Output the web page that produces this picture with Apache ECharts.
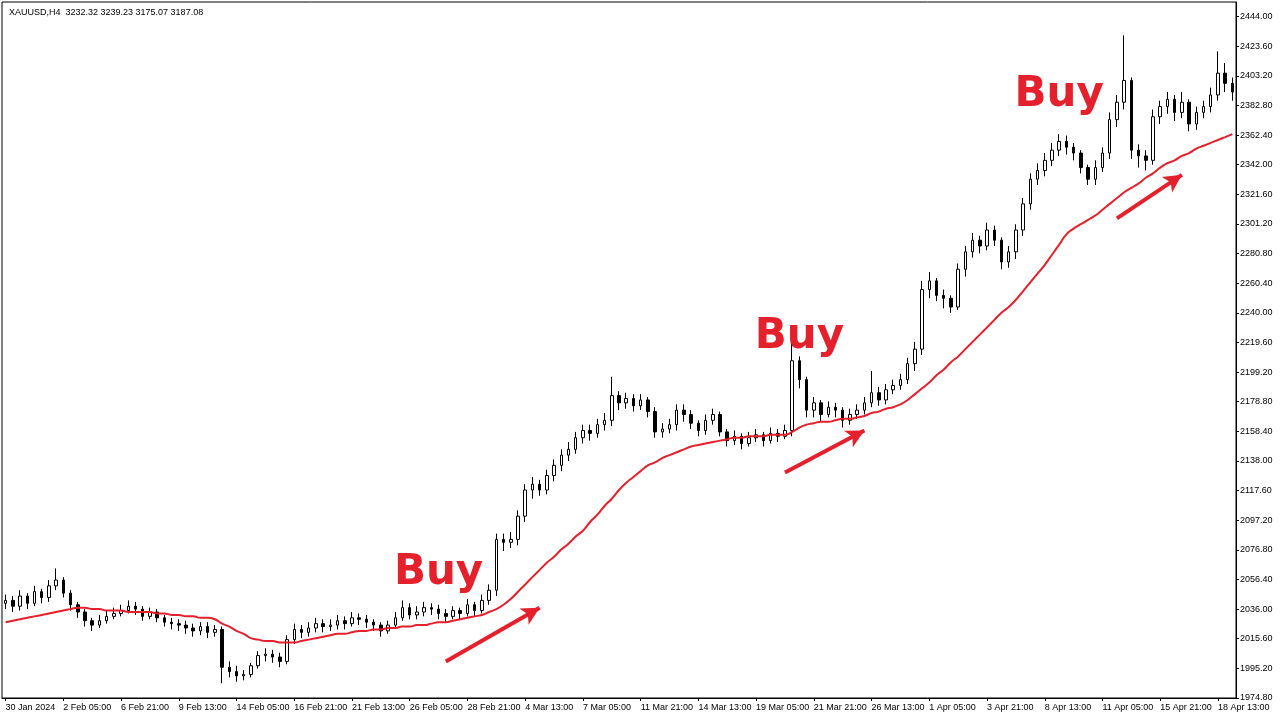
<!DOCTYPE html>
<html>
<head>
<meta charset="utf-8">
<script src="https://cdn.jsdelivr.net/npm/echarts@6/dist/echarts.min.js"></script>
<style>html,body{margin:0;padding:0;background:#fff}#chart{width:1280px;height:720px}</style>
</head>
<body>
<div id="chart"></div>
<script>
// tick labels under the x axis, one every 8 candles
var tickLabels = ['30 Jan 2024','2 Feb 05:00','6 Feb 21:00','9 Feb 13:00','14 Feb 05:00','16 Feb 21:00',
    '21 Feb 13:00','26 Feb 05:00','28 Feb 21:00','4 Mar 13:00','7 Mar 05:00','11 Mar 21:00','14 Mar 13:00',
    '19 Mar 05:00','21 Mar 21:00','26 Mar 13:00','1 Apr 05:00','3 Apr 21:00','8 Apr 13:00','11 Apr 05:00',
    '15 Apr 21:00','18 Apr 13:00'];
// close prices
var closes = [2042,2038,2045,2040,2048,2044,2052,2056,2047,2039,2034,2028,2025,2028,2031,2033,2035,2038,2036,2031,
    2034,2030,2027,2026,2025,2023,2021,2024,2020,2022,1996,1993,1990,1991,1997,2004,2005,2003,2000,2015,
    2022,2020,2023,2026,2024,2025,2028,2026,2030,2029,2027,2025,2021,2025,2030,2037,2032,2034,2037,2036,
    2033,2031,2035,2033,2039,2035,2042,2049,2084,2082,2084,2100,2118,2122,2118,2128,2135,2142,2146,2154,
    2159,2157,2163,2166,2183,2178,2181,2176,2180,2172,2158,2160,2163,2173,2170,2164,2159,2166,2170,2158,
    2152,2155,2150,2154,2156,2152,2157,2155,2159,2207,2194,2173,2178,2170,2175,2173,2166,2170,2173,2178,
    2185,2180,2187,2190,2194,2205,2215,2256,2262,2252,2250,2244,2270,2282,2290,2286,2297,2290,2275,2282,
    2297,2315,2332,2338,2345,2352,2358,2354,2350,2340,2332,2340,2350,2373,2385,2400,2352,2348,2345,2375,
    2382,2387,2378,2385,2370,2378,2382,2390,2405,2398,2392];
var opens = [2040,2042,2038,2045,2040,2048,2044,2052,2056,2047,2039,2034,2028,2025,2028,2031,2033,2035,2038,2036,
    2031,2034,2030,2027,2026,2025,2023,2021,2024,2020,2022,1996,1993,1990,1991,1997,2004,2005,2003,2000,
    2015,2022,2020,2023,2026,2024,2025,2028,2026,2030,2029,2027,2025,2021,2025,2030,2037,2032,2034,2037,
    2036,2033,2031,2035,2033,2039,2035,2042,2049,2084,2082,2084,2100,2118,2122,2118,2128,2135,2142,2146,
    2154,2159,2157,2163,2166,2183,2178,2181,2176,2180,2172,2158,2160,2163,2173,2170,2164,2159,2166,2170,
    2158,2152,2155,2150,2154,2156,2152,2157,2155,2159,2207,2194,2173,2178,2170,2175,2173,2166,2170,2173,
    2178,2185,2180,2187,2190,2194,2205,2215,2256,2262,2252,2250,2244,2270,2282,2290,2286,2297,2290,2275,
    2282,2297,2315,2332,2338,2345,2352,2358,2354,2350,2340,2332,2340,2350,2373,2385,2400,2352,2348,2345,
    2375,2382,2387,2378,2385,2370,2378,2382,2390,2405,2398];
var highs = [2046,2045,2049,2047,2052,2050,2056,2064,2058,2049,2041,2036,2030,2032,2035,2037,2039,2042,2041,2038,
    2037,2036,2032,2030,2029,2028,2026,2027,2027,2025,2024,2000,1997,1994,1999,2007,2009,2008,2006,2018,
    2026,2025,2027,2030,2029,2029,2032,2031,2034,2033,2032,2029,2027,2028,2034,2042,2040,2038,2041,2040,
    2039,2036,2038,2037,2043,2041,2046,2053,2088,2088,2089,2104,2122,2127,2125,2132,2139,2146,2151,2158,
    2163,2163,2167,2171,2196,2186,2185,2184,2184,2182,2175,2164,2167,2177,2177,2173,2166,2170,2174,2172,
    2160,2159,2157,2158,2160,2158,2161,2160,2163,2222,2210,2196,2182,2180,2179,2178,2175,2174,2177,2182,
    2200,2189,2191,2194,2198,2209,2220,2262,2268,2264,2256,2252,2274,2286,2295,2293,2302,2300,2292,2286,
    2301,2319,2336,2343,2350,2357,2363,2362,2357,2352,2342,2345,2354,2378,2390,2431,2402,2356,2352,2380,
    2386,2392,2390,2392,2387,2382,2386,2395,2420,2412,2402];
var lows = [2036,2034,2035,2036,2038,2040,2041,2049,2044,2035,2030,2024,2021,2023,2026,2029,2031,2033,2032,2028,
    2029,2027,2024,2022,2021,2019,2017,2018,2016,2017,1985,1989,1986,1987,1989,1995,2000,1999,1996,1998,
    2012,2016,2017,2020,2020,2021,2022,2022,2024,2025,2023,2021,2017,2019,2023,2028,2029,2029,2031,2032,
    2029,2027,2029,2029,2031,2031,2033,2039,2045,2076,2078,2080,2096,2112,2114,2115,2124,2131,2138,2143,
    2150,2152,2154,2159,2162,2173,2174,2172,2173,2168,2154,2154,2157,2159,2165,2160,2155,2156,2163,2155,
    2148,2149,2146,2148,2151,2148,2150,2151,2153,2155,2188,2168,2168,2165,2168,2168,2161,2163,2167,2170,
    2175,2176,2177,2184,2187,2191,2200,2211,2250,2248,2243,2240,2242,2265,2278,2281,2283,2286,2270,2271,
    2277,2293,2311,2328,2334,2341,2348,2349,2345,2336,2328,2328,2337,2346,2368,2380,2346,2340,2338,2342,
    2370,2377,2372,2374,2365,2366,2374,2378,2386,2392,2386];
// red moving average
var maValues = [2027,2028,2029,2030,2031,2032,2033,2034,2035,2036,2037,
    2037,2036,2036,2035,2035,2035,2034,2034,2034,2034,
    2033,2033,2032,2032,2031,2031,2030,2030,2029,
    2026,2024,2021,2019,2016,2015,2014,2014,2013,2013,2013,
    2014,2015,2016,2017,2018,2019,2019,2020,
    2021,2021,2022,2022,2023,2023,2024,2024,2025,2025,
    2026,2027,2027,2028,2029,2030,2031,2032,
    2034,2036,2039,2043,2048,2053,2058,2063,
    2068,2072,2077,2081,2086,2090,
    2096,2101,2107,2112,2118,
    2123,2127,2131,2135,
    2137,2140,2142,2144,2146,2148,2149,
    2150,2151,2152,2153,2154,2154,2155,
    2155,2155,2156,2156,2156,
    2158,2161,2163,
    2164,2165,2165,2166,2167,2167,2168,
    2169,2171,2172,2174,2175,2177,
    2180,2184,2188,2192,2197,
    2201,2206,2210,2215,2220,2225,
    2230,2235,2240,2244,2249,
    2255,2261,2267,2273,2280,2287,2294,
    2298,2301,2304,2307,
    2311,2315,2319,2323,2326,
    2329,2333,2336,2340,
    2343,2345,2348,2350,2353,
    2355,2357,2359,2361,2363];
// annotations: [index, price]
var buyLabels = [[60, 2061], [110, 2223], [146, 2390]];
var arrows = [[[61, 2000], [74, 2037]], [[108, 2130], [119, 2159]], [[154, 2305], [163, 2335]]];

var categories = closes.map(function (c, i) {
    return i % 8 === 0 ? (tickLabels[i / 8] || '') : '';
});
var candles = closes.map(function (c, i) {
    return [opens[i], c, lows[i], highs[i]];
});

var chart = echarts.init(document.getElementById('chart'));
chart.setOption({
    animation: false,
    backgroundColor: '#fff',
    title: {
        text: 'XAUUSD,H4  3232.32 3239.23 3175.07 3187.08',
        left: 4, top: 3,
        textStyle: {fontSize: 9, fontWeight: 'normal', color: '#000', fontFamily: 'Liberation Sans'}
    },
    grid: {left: 2, right: 44, top: 2, bottom: 22, show: true, borderColor: '#000', borderWidth: 1},
    xAxis: {
        type: 'category',
        data: categories,
        boundaryGap: true,
        axisLine: {lineStyle: {color: '#000'}},
        axisTick: {show: true, interval: 7, alignWithLabel: true, length: 3, lineStyle: {color: '#000'}},
        axisLabel: {interval: 7, fontSize: 9, color: '#000', fontFamily: 'Liberation Sans', align: 'left', margin: 5},
        splitLine: {show: false}
    },
    yAxis: {
        type: 'value',
        position: 'right',
        min: 1974.8,
        max: 2454,
        interval: 20.4,
        axisLine: {show: true, lineStyle: {color: '#000'}},
        axisTick: {show: true, length: 3, lineStyle: {color: '#000'}},
        axisLabel: {fontSize: 9, color: '#000', fontFamily: 'Liberation Sans', margin: 4, showMaxLabel: false,
            formatter: function (v) { return v.toFixed(2); }},
        splitLine: {show: false}
    },
    series: [{
        type: 'candlestick',
        data: candles,
        barWidth: 3,
        itemStyle: {color: '#fff', color0: '#000', borderColor: '#000', borderColor0: '#000', borderWidth: 1},
        markPoint: {
            symbol: 'circle', symbolSize: 0,
            label: {show: true, formatter: 'Buy', color: '#e3202b', fontSize: 42, fontWeight: 900,
                fontFamily: 'DejaVu Sans'},
            data: buyLabels.map(function (b) { return {coord: b}; })
        },
        markLine: {
            silent: true,
            symbol: ['none', 'arrow'],
            symbolSize: [14, 18],
            label: {show: false},
            lineStyle: {color: '#e3202b', width: 4, type: 'solid'},
            data: arrows.map(function (a) { return [{coord: a[0]}, {coord: a[1]}]; })
        }
    }, {
        type: 'line',
        data: maValues,
        showSymbol: false,
        smooth: true,
        lineStyle: {color: '#e3202b', width: 2}
    }]
});
</script>
</body>
</html>
